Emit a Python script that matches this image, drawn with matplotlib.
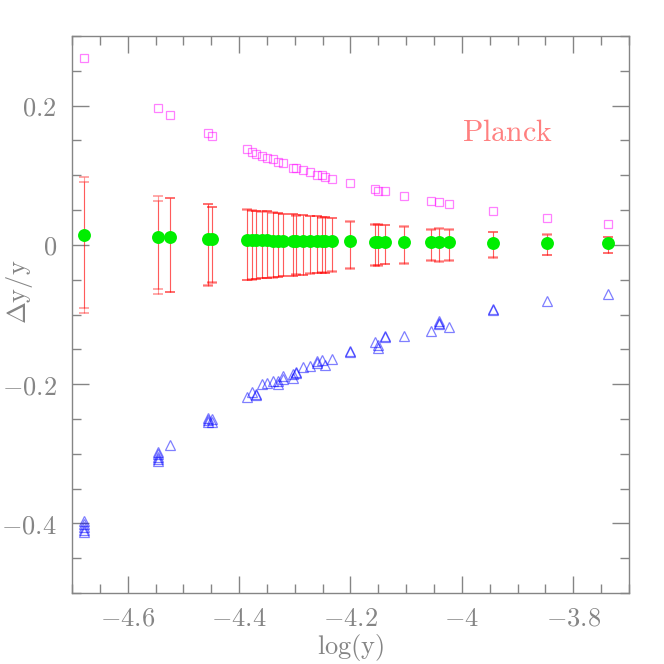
import matplotlib
matplotlib.use("Agg")
import matplotlib.pyplot as plt
from matplotlib.ticker import FuncFormatter, MultipleLocator

plt.rcParams["mathtext.fontset"] = "cm"

# x positions (log y) shared by all series
LOGY = [-4.678, -4.545, -4.524, -4.455, -4.449, -4.386, -4.377, -4.370, -4.359,
        -4.350, -4.340, -4.330, -4.322, -4.303, -4.297, -4.285, -4.273, -4.260,
        -4.251, -4.245, -4.234, -4.201, -4.156, -4.150, -4.138, -4.104, -4.056,
        -4.041, -4.024, -3.945, -3.847, -3.737]

# mean offset (green dots)
MEAN = [0.014, 0.011, 0.011, 0.009, 0.009, 0.007, 0.007, 0.007, 0.007, 0.007,
        0.006, 0.006, 0.006, 0.006, 0.006, 0.006, 0.006, 0.006, 0.006, 0.006,
        0.006, 0.005, 0.0045, 0.0045, 0.0045, 0.004, 0.0035, 0.0035, 0.0035,
        0.003, 0.0025, 0.002]

# error bar half widths, two overlapping realisations
ERR = [0.098, 0.070, 0.068, 0.059, 0.055, 0.051, 0.050, 0.049, 0.048, 0.048,
       0.047, 0.046, 0.045, 0.044, 0.043, 0.043, 0.042, 0.041, 0.040, 0.040,
       0.039, 0.033, 0.030, 0.029, 0.028, 0.027, 0.023, 0.023, 0.023, 0.019,
       0.015, 0.012]
ERR_ALT = [0.091, 0.063, 0.068, 0.058, 0.054, 0.050, 0.049, 0.049, 0.047, 0.048,
           0.046, 0.046, 0.044, 0.044, 0.042, 0.043, 0.041, 0.041, 0.039, 0.040,
           0.038, 0.034, 0.029, 0.030, 0.028, 0.026, 0.022, 0.024, 0.022, 0.018,
           0.014, 0.012]

# upper branch (magenta squares)
SQUARES = [0.268, 0.196, 0.187, 0.160, 0.157, 0.137, 0.134, 0.130, 0.127, 0.125,
           0.123, 0.119, 0.118, 0.111, 0.110, 0.107, 0.104, 0.101, 0.100, 0.097,
           0.095, 0.089, 0.080, 0.078, 0.077, 0.070, 0.063, 0.061, 0.059, 0.049,
           0.039, 0.030]

# lower branch (blue triangles), several per position
TRI_X = [-4.678, -4.678, -4.678, -4.678, -4.678,
         -4.545, -4.545, -4.545, -4.545, -4.545,
         -4.524, -4.455, -4.455, -4.455, -4.449, -4.449,
         -4.386, -4.377, -4.370, -4.370, -4.359, -4.350, -4.340,
         -4.330, -4.330, -4.322, -4.322, -4.303, -4.303, -4.297, -4.297,
         -4.285, -4.273, -4.260, -4.260, -4.251, -4.245, -4.234,
         -4.201, -4.201, -4.156, -4.150, -4.150, -4.138, -4.138,
         -4.104, -4.056, -4.041, -4.041, -4.041, -4.024,
         -3.945, -3.945, -3.847, -3.737]
TRI_Y = [-0.397, -0.401, -0.405, -0.409, -0.413,
         -0.298, -0.301, -0.304, -0.307, -0.310,
         -0.287, -0.249, -0.252, -0.255, -0.250, -0.254,
         -0.219, -0.212, -0.214, -0.216, -0.200, -0.199, -0.195,
         -0.200, -0.196, -0.192, -0.189, -0.191, -0.186, -0.184, -0.182,
         -0.176, -0.174, -0.169, -0.167, -0.165, -0.172, -0.164,
         -0.152, -0.154, -0.140, -0.144, -0.148, -0.131, -0.133,
         -0.131, -0.124, -0.110, -0.112, -0.114, -0.118,
         -0.092, -0.094, -0.081, -0.070]

GRAY = "#858585"

fig = plt.figure(figsize=(6.64, 6.64), dpi=100)
ax = fig.add_axes([0.1084, 0.1069, 0.8389, 0.8389])

zeros = [0.0] * len(LOGY)
for err in (ERR, ERR_ALT):
    ax.errorbar(LOGY, zeros, yerr=err, fmt="none", ecolor="#ff0000", alpha=0.4,
                elinewidth=0.8, capsize=3.3, capthick=1.2, zorder=2)

ax.plot(LOGY, SQUARES, "s", ms=6.2, mfc="none", mec="#ff00ff", mew=0.9, alpha=0.5, zorder=3)
ax.plot(TRI_X, TRI_Y, "^", ms=7.2, mfc="none", mec="#0000ff", mew=0.9, alpha=0.5, zorder=3)
ax.plot(LOGY, MEAN, "o", ms=9.3, color="#00ee00", mec="none", zorder=4)

ax.text(-4.0, 0.149, r"$\mathrm{Planck}$", color="#ff6060", alpha=0.8, fontsize=21.5,
        ha="left", va="baseline")

ax.set_xlim(-4.7, -3.7)
ax.set_ylim(-0.5, 0.3)
ax.xaxis.set_major_locator(MultipleLocator(0.2))
ax.xaxis.set_minor_locator(MultipleLocator(0.05))
ax.yaxis.set_major_locator(MultipleLocator(0.2))
ax.yaxis.set_minor_locator(MultipleLocator(0.05))


def fmt(v, pos):
    v = round(v, 3)
    if v == 0:
        return r"$0$"
    return r"$%g$" % v


ax.xaxis.set_major_formatter(FuncFormatter(fmt))
ax.yaxis.set_major_formatter(FuncFormatter(fmt))

ax.tick_params(which="both", direction="in", top=True, right=True, colors=GRAY,
               labelcolor=GRAY, labelsize=19, width=1)
ax.tick_params(which="major", length=12)
ax.tick_params(which="minor", length=6.5)
ax.tick_params(axis="x", pad=9)
ax.tick_params(axis="y", pad=11)
for sp in ax.spines.values():
    sp.set_color(GRAY)
    sp.set_linewidth(1)

fig.text(0.528, 0.025, r"$\log(\mathrm{y})$", color=GRAY, fontsize=19,
         ha="center", va="center")
fig.text(0.03, 0.56, r"$\Delta\mathrm{y}/\mathrm{y}$", color=GRAY, fontsize=19,
         ha="center", va="center", rotation=90)

fig.savefig("out.png", dpi=100)
